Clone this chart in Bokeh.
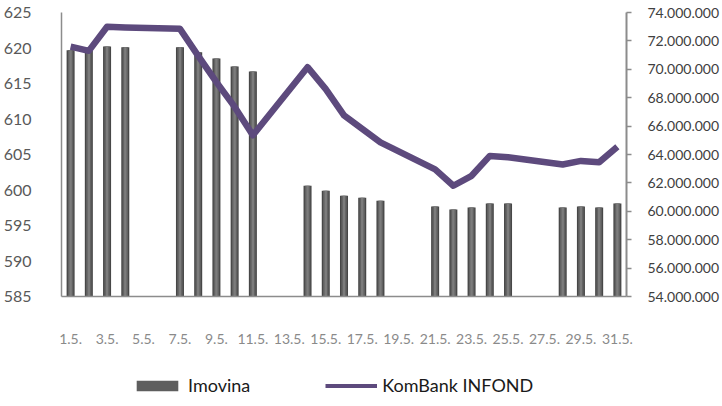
from bokeh.plotting import figure
from bokeh.layouts import column
from bokeh.models import (Range1d, LinearAxis, FixedTicker, CustomJSTickFormatter,
                          Legend, LegendItem, ColumnDataSource)
from bokeh.embed import file_html
from bokeh.resources import INLINE

# ---- data (May, working days) ----
dates = ["1.5.", "2.5.", "3.5.", "4.5.", "7.5.", "8.5.", "9.5.", "10.5.", "11.5.",
         "14.5.", "15.5.", "16.5.", "17.5.", "18.5.", "21.5.", "22.5.", "23.5.",
         "24.5.", "25.5.", "28.5.", "29.5.", "30.5.", "31.5."]
imovina = [71350000, 71300000, 71600000, 71550000, 71550000, 71200000, 70760000,
           70200000, 69850000, 61800000, 61450000, 61100000, 60950000, 60740000,
           60330000, 60120000, 60270000, 60550000, 60550000, 60270000, 60330000,
           60270000, 60550000]
infond = [620.2, 619.6, 623.0, 622.9, 622.7, 618.9, 615.2, 611.7, 607.7,
          617.3, 614.2, 610.5, 608.6, 606.7, 602.9, 600.6, 602.0,
          604.8, 604.6, 603.6, 604.1, 603.9, 606.1]
tick_labels = ["1.5.", "3.5.", "5.5.", "7.5.", "9.5.", "11.5.", "13.5.", "15.5.",
               "17.5.", "19.5.", "21.5.", "23.5.", "25.5.", "27.5.", "29.5.", "31.5."]
series_names = ["Imovina", "KomBank INFOND"]
left_range = (585, 625)
right_range = (54000000, 74000000)

FONT = "Lato"
BAR_C = "#5e5e5e"
LINE_C = "#5d4a7d"
day = [int(d.split(".")[0]) for d in dates]
tick_pos = [int(t.split(".")[0]) for t in tick_labels]

src = ColumnDataSource(dict(x=day, v=imovina, y=infond))

p = figure(frame_width=565, frame_height=284, output_backend="svg", toolbar_location=None,
           x_range=Range1d(0.5, 31.5), y_range=Range1d(*left_range),
           min_border_left=54, min_border_top=12, min_border_bottom=68, min_border_right=10)
p.background_fill_color = "white"
p.border_fill_color = "white"
p.outline_line_color = None
p.xgrid.visible = False
p.ygrid.visible = False
p.extra_y_ranges = {"right": Range1d(*right_range)}

# bars with pseudo-gradient
p.vbar(x="x", top="v", bottom=right_range[0], width=0.44, source=src, y_range_name="right",
       fill_color="#474747", line_color=None)
p.vbar(x="x", top="v", bottom=right_range[0], width=0.30, source=src, y_range_name="right",
       fill_color="#626262", line_color=None)
p.vbar(x="x", top="v", bottom=right_range[0], width=0.13, source=src, y_range_name="right",
       fill_color="#7c7c7c", line_color=None)

p.line(x="x", y="y", source=src, line_color=LINE_C, line_width=6.5, line_join="round")

# axes
xa = p.xaxis[0]
xa.ticker = FixedTicker(ticks=tick_pos)
xa.major_label_overrides = {tp: tl for tp, tl in zip(tick_pos, tick_labels)}
xa.axis_line_color = "#8c8c8c"
xa.axis_line_width = 1.5
xa.major_tick_line_color = None
xa.minor_tick_line_color = None
xa.major_label_text_font = FONT
xa.major_label_text_font_size = "14px"
xa.major_label_text_color = "#8a8a8a"
xa.major_label_standoff = 31

ya = p.yaxis[0]
ya.ticker = FixedTicker(ticks=list(range(585, 626, 5)))
ya.axis_line_color = "#8c8c8c"
ya.axis_line_width = 1.5
ya.major_tick_line_color = None
ya.minor_tick_line_color = None
ya.major_label_text_font = FONT
ya.major_label_text_font_size = "16px"
ya.major_label_text_color = "#595959"
ya.major_label_standoff = 24

ra = LinearAxis(y_range_name="right")
ra.ticker = FixedTicker(ticks=list(range(54000000, 74000001, 2000000)))
ra.formatter = CustomJSTickFormatter(code="return Math.round(tick).toString().replace(/\\B(?=(\\d{3})+(?!\\d))/g, '.');")
ra.axis_line_color = "#8c8c8c"
ra.axis_line_width = 2
ra.major_tick_line_color = "#8c8c8c"
ra.major_tick_line_width = 1.5
ra.major_tick_out = 5
ra.major_tick_in = 0
ra.minor_tick_line_color = None
ra.major_label_text_font = FONT
ra.major_label_text_font_size = "14px"
ra.major_label_text_color = "#404040"
ra.major_label_standoff = 16
p.add_layout(ra, "right")

# legend strip underneath (frame aligned with the chart frame by the column layout)
q = figure(width=712, height=32, output_backend="svg", toolbar_location=None,
           x_range=Range1d(0, 1), y_range=Range1d(0, 1),
           min_border_left=54, min_border_right=93, min_border_top=0, min_border_bottom=0)
q.axis.visible = False
q.xgrid.visible = False
q.ygrid.visible = False
q.outline_line_color = None
q.background_fill_color = "white"
q.border_fill_color = "white"
dummy = ColumnDataSource(dict(x=[-100], y=[-100], v=[-100]))  # far outside the visible range
leg_bar = q.vbar(x="x", top="v", bottom=-101, width=0.4, source=dummy, fill_color=BAR_C, line_color=None)
leg_line = q.line(x="x", y="y", source=dummy, line_color=LINE_C, line_width=4)

legend = Legend(items=[LegendItem(label=series_names[0], renderers=[leg_bar]),
                       LegendItem(label=series_names[1], renderers=[leg_line])],
                location=(70, 0), orientation="horizontal",
                glyph_width=52, glyph_height=13, label_height=13, label_standoff=5,
                spacing=75, padding=0, margin=0,
                label_text_font=FONT, label_text_font_size="18px", label_text_color="#1a1a1a",
                border_line_color=None, background_fill_alpha=0)
q.add_layout(legend, "center")

layout = column(p, q, spacing=0)
open("out.html", "w").write(file_html(layout, INLINE))
